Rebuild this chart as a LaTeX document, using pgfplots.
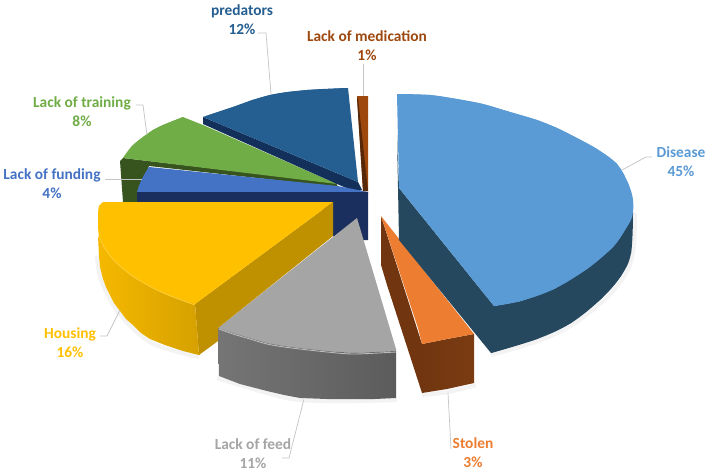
\documentclass[border=0pt]{standalone}
\usepackage{pgfplots}
\pgfplotsset{compat=1.18}
\usepackage{fontspec}
\setmainfont{Carlito}
\definecolor{cDis}{HTML}{5B9BD5}\definecolor{cDisD}{HTML}{25485F}
\definecolor{cSto}{HTML}{ED7D31}\definecolor{cStoD}{HTML}{713610}
\definecolor{cFee}{HTML}{A5A5A5}
\definecolor{cHou}{HTML}{FFC000}\definecolor{cHouD}{HTML}{BF9000}
\definecolor{cFun}{HTML}{4472C4}\definecolor{cFunD}{HTML}{1B2F5F}
\definecolor{cTra}{HTML}{70AD47}\definecolor{cTraD}{HTML}{37541F}
\definecolor{cPre}{HTML}{255E91}\definecolor{cPreD}{HTML}{12305A}
\definecolor{cMed}{HTML}{9E480E}\definecolor{cMedD}{HTML}{57270A}
\definecolor{cLead}{HTML}{C4C4C4}\definecolor{cShadow}{HTML}{F3F3F3}
\newcommand{\lab}[5]{\node[align=center,font=\fontsize{15.4}{19}\selectfont\bfseries,text=#3,inner sep=0pt,anchor=center] at (axis cs:#1,#2) {#4\\#5};}
\pgfplotsset{bulge/.style={fill=#1,draw=none,smooth,tension=.6},
 shadowline/.style={draw=cShadow,line width=4pt,smooth,tension=.6}}
\begin{document}
\begin{tikzpicture}
\begin{axis}[
  scale only axis,width=708pt,height=472pt,
  xmin=0,xmax=708,ymin=0,ymax=472,y dir=reverse,
  axis lines=none,clip=false,
  every axis plot/.append style={forget plot,no markers},
]
% page frame
\addplot[fill=white,draw=none] coordinates {(0,0)(708,0)(708,472)(0,472)} --cycle;
% soft shadows
\addplot[shadowline] coordinates {(635,213)(633,253)(623,278)(603,301)(572,325)(538,341)(491,355)};
\addplot[shadowline] coordinates {(422,395)(448,392)(476,385)};
\addplot[shadowline] coordinates {(217,378)(267,393)(300,400)(354,401)(397,400)};
\addplot[shadowline] coordinates {(97,256)(101,280)(118,312)(148,341)(182,353)(199,357)};
% green
\addplot[fill=cTraD,draw=none] coordinates {(123,158)(120,161)(123,202)(138,204)(138,192)(149,166)(338,187)(336,183)} --cycle;
\addplot[fill=cTra,draw=none] coordinates {(183,117)(203,125)(337,184)(123,158)(132,146)(143,137)(153,130)(163,125)} --cycle;
\addplot[bulge=cTra] coordinates {(123,158)(132,146)(143,137)(153,130)(163,125)(183,117)};
% predators
\addplot[fill=cPreD,draw=none] coordinates {(203,117)(203,124)(337,184)(356,192)(362,190)(358,182)} --cycle;
\addplot[fill=cPre,draw=none] coordinates {(203,117)(218,112)(233,107)(252,100)(270,95)(288,92)(307,90)(328,89)(348,88)(358,182)} --cycle;
\addplot[bulge=cPre] coordinates {(203,117)(233,107)(270,95)(307,90)(348,88)};
% funding
\addplot[fill=cFun,draw=none] coordinates {(149,167)(338,186)(368,192)(368,193)(137,193)(139,186)(143,177)} --cycle;
\addplot[bulge=cFun] coordinates {(149,167)(143,177)(139,186)(137,193)};
\addplot[fill=cFunD,draw=none] coordinates {(137,192)(368,192)(368,240)(340,240)(333,236)(320,204)(137,204)} --cycle;
% gray
\addplot[fill=cFee,draw=none] coordinates {(357,218)(218,328)(233,333)(250,338)(267,343)(284,346)(300,348)(327,351)(354,353)(396,351)(396,349)} --cycle;
\addplot[left color=gray!92!black,right color=black!64,draw=none] coordinates {(218,328)(233,333)(250,338)(267,343)(284,346)(300,348)(327,351)(354,353)(396,351)(396,398)(375,399)(354,399)(327,399)(300,398)(284,395)(267,391)(240,384)(219,376)} --cycle;
\addplot[draw=black!27,line width=.9pt,smooth] coordinates {(219,329)(233,334)(250,339)(267,344)(284,347)(300,349)(327,352)(354,354)(396,352)};
% housing
\addplot[fill=cHouD,draw=none] coordinates {(333,202)(195,304)(199,355)(218,341)(218,328)(333,236)} --cycle;
\addplot[left color=cHou!96!black,right color=cHou!84!black,draw=none] coordinates {(98,236)(110,256)(133,276)(150,286)(167,294)(195,304)(199,355)(183,351)(165,345)(150,339)(141,333)(134,326)(126,319)(120,311)(114,303)(110,295)(106,287)(103,279)(100,267)(99,256)} --cycle;
\addplot[fill=cHou,draw=none] coordinates {(103,202)(333,202)(195,304)(167,294)(150,286)(133,276)(120,266)(110,256)(103,246)(99,236)(98,215)} --cycle;
\addplot[bulge=cHou] coordinates {(104,202)(99,206)(98,220)(99,236)(103,246)(110,256)(120,266)(133,276)(150,286)(167,294)(195,304)};
\addplot[draw=cHou!80!white,line width=.9pt,smooth] coordinates {(100,238)(104,247)(111,257)(121,267)(134,277)(151,287)(168,295)(195,305)};
% medication
\addplot[fill=cMed,draw=none] coordinates {(357,96)(368,96)(368,191)(363,191)} --cycle;
\addplot[fill=cMedD,draw=none] coordinates {(357,98)(358,98)(368,191)(363,191)} --cycle;
% stolen
\addplot[fill=cStoD,draw=none] coordinates {(381,216)(381,265)(387,285)(422,393)(422,344)} --cycle;
\addplot[left color=cStoD,right color=cStoD!92!cSto,draw=none] coordinates {(422,344)(447,339)(474,334)(474,383)(447,389)(422,393)} --cycle;
\addplot[fill=cSto,draw=none] coordinates {(381,216)(474,334)(447,339)(422,344)(418,328)} --cycle;
% disease
\addplot[fill=cDisD,draw=none] coordinates {(397,135)(399,188)(494,306)(521,301)(554,289)(587,269)(611,249)(620,238)(632,213)(631,253)(621,276)(601,299)(571,323)(537,339)(491,353)(399,240)} --cycle;
\addplot[bulge=cDisD] coordinates {(633,212)(631,253)(621,276)(601,299)(571,323)(537,339)(491,353)};
\addplot[fill=cDis,draw=none] coordinates {(397,94)(430,95)(457,99)(483,104)(510,112)(537,120)(557,128)(575,137)(597,149)(617,164)(628,183)(633,200)(632,217)(625,230)(620,238)(611,249)(587,269)(554,289)(521,301)(494,306)(399,188)} --cycle;
\addplot[bulge=cDis] coordinates {(397,94)(430,95)(457,99)(483,104)(510,112)(537,120)(557,128)(575,137)(597,149)(617,164)(628,183)(633,200)(632,217)(625,230)(620,238)(611,249)(587,269)(554,289)(521,301)(494,306)};
% leader lines
\addplot[draw=cLead,line width=.7pt] coordinates {(258,33)(266,33)(271,94)};
\addplot[draw=cLead,line width=.7pt] coordinates {(136,105)(143,105)(147,135)};
\addplot[draw=cLead,line width=.7pt] coordinates {(105,179)(142,179)};
\addplot[draw=cLead,line width=.7pt] coordinates {(363,64)(363,96)};
\addplot[draw=cLead,line width=.7pt] coordinates {(652,157)(646,157)(622,170)};
\addplot[draw=cLead,line width=.7pt] coordinates {(448,393)(451,449)};
\addplot[draw=cLead,line width=.7pt] coordinates {(304,399)(289,458)(282,458)};
\addplot[draw=cLead,line width=.7pt] coordinates {(120,310)(107,336)(100,336)};
% labels
\lab{681}{162}{cDis}{Disease}{45\%}
\lab{473}{453}{cSto}{Stolen}{3\%}
\lab{253}{453.5}{cFee}{Lack of feed}{11\%}
\lab{70}{343}{cHou}{Housing}{16\%}
\lab{52}{184}{cFun}{Lack of funding}{4\%}
\lab{82}{112}{cTra}{Lack of training}{8\%}
\lab{242}{20}{cPre}{predators}{12\%}
\lab{367}{46}{cMed}{Lack of medication}{1\%}
\end{axis}
\end{tikzpicture}
\end{document}
